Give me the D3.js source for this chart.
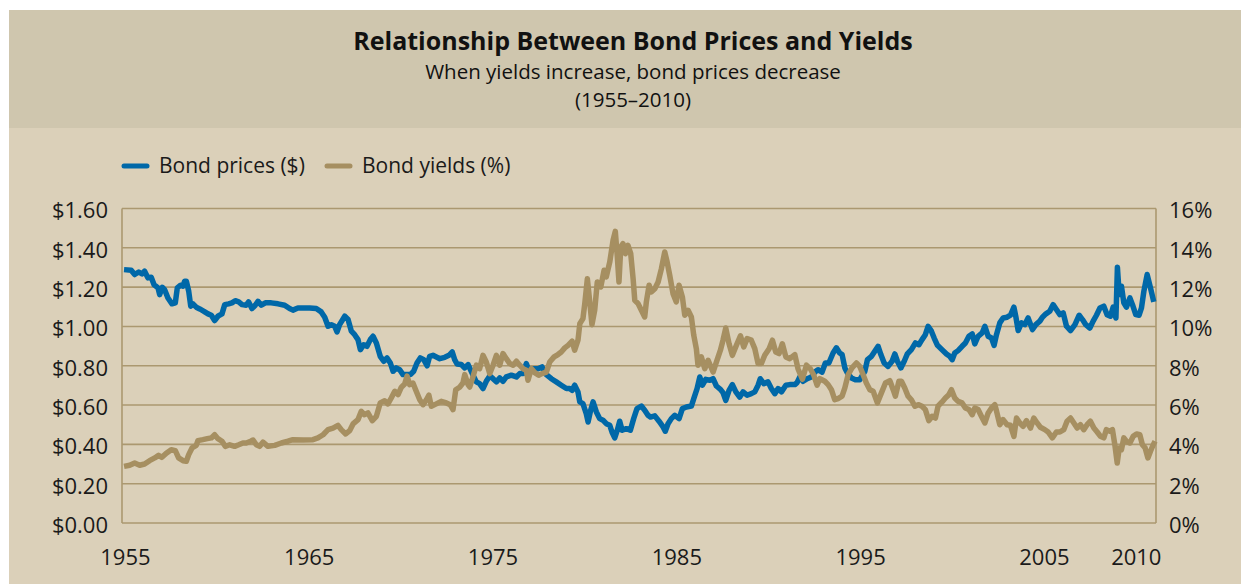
<!DOCTYPE html>
<html>
<head>
<meta charset="utf-8">
<script src="https://cdn.jsdelivr.net/npm/d3@7"></script>
<style>
  body { margin: 0; background: #fff; }
  svg { display: block; font-family: "Open Sans", sans-serif; }
</style>
</head>
<body>
<svg id="chart" width="1241" height="584"></svg>
<script>
// bond price ($), decimal years
var priceYears = [
  1954.95, 1955.34, 1955.53, 1955.75, 1955.93, 1956.07, 1956.25, 1956.43, 1956.58, 1956.80,
  1956.89, 1957.03, 1957.16, 1957.34, 1957.56, 1957.74, 1957.85, 1958.03, 1958.16, 1958.25,
  1958.34, 1958.47, 1958.58, 1958.70, 1958.88, 1959.07, 1959.30, 1959.52, 1959.70, 1959.88,
  1960.06, 1960.28, 1960.43, 1960.64, 1960.82, 1961.00, 1961.19, 1961.37, 1961.60, 1961.73,
  1961.91, 1962.09, 1962.24, 1962.42, 1962.64, 1962.96, 1963.33, 1963.69, 1963.96, 1964.14,
  1964.41, 1965.05, 1965.41, 1965.68, 1965.87, 1966.05, 1966.23, 1966.41, 1966.54, 1966.68,
  1966.96, 1967.14, 1967.32, 1967.50, 1967.68, 1967.81, 1967.99, 1968.17, 1968.35, 1968.50,
  1968.68, 1968.89, 1969.08, 1969.26, 1969.44, 1969.59, 1969.76, 1969.95, 1970.13, 1970.35,
  1970.53, 1970.71, 1970.89, 1971.07, 1971.26, 1971.44, 1971.58, 1971.76, 1972.13, 1972.40,
  1972.63, 1972.81, 1972.94, 1973.07, 1973.30, 1973.49, 1973.67, 1973.94, 1974.12, 1974.30,
  1974.48, 1974.66, 1974.85, 1975.03, 1975.21, 1975.39, 1975.57, 1975.75, 1976.02, 1976.30,
  1976.48, 1976.66, 1976.84, 1976.97, 1977.20, 1977.48, 1977.69, 1977.93, 1978.20, 1978.47,
  1978.74, 1979.02, 1979.20, 1979.33, 1979.47, 1979.65, 1979.75, 1979.92, 1980.10, 1980.20,
  1980.34, 1980.47, 1980.65, 1980.83, 1981.01, 1981.19, 1981.38, 1981.50, 1981.65, 1981.79,
  1981.92, 1982.05, 1982.28, 1982.50, 1982.68, 1982.86, 1983.10, 1983.28, 1983.46, 1983.59,
  1983.83, 1984.06, 1984.28, 1984.40, 1984.55, 1984.73, 1984.92, 1985.15, 1985.33, 1985.55,
  1985.82, 1985.95, 1986.13, 1986.28, 1986.42, 1986.60, 1986.82, 1987.00, 1987.18, 1987.40,
  1987.54, 1987.69, 1987.87, 1988.05, 1988.24, 1988.45, 1988.63, 1988.85, 1989.08, 1989.27,
  1989.45, 1989.57, 1989.76, 1989.99, 1990.17, 1990.36, 1990.54, 1990.72, 1990.96, 1991.17,
  1991.45, 1991.57, 1991.72, 1991.90, 1992.12, 1992.35, 1992.54, 1992.71, 1992.93, 1993.11,
  1993.30, 1993.53, 1993.71, 1993.89, 1994.02, 1994.17, 1994.31, 1994.53, 1994.74, 1994.98,
  1995.26, 1995.40, 1995.62, 1995.80, 1995.98, 1996.13, 1996.31, 1996.52, 1996.74, 1996.89,
  1997.03, 1997.22, 1997.40, 1997.57, 1997.79, 1998.01, 1998.20, 1998.37, 1998.55, 1998.70,
  1998.88, 1999.03, 1999.21, 1999.46, 1999.70, 1999.88, 2000.01, 2000.15, 2000.33, 2000.55,
  2000.73, 2000.92, 2001.10, 2001.24, 2001.42, 2001.64, 2001.79, 2001.97, 2002.15, 2002.29,
  2002.42, 2002.60, 2002.78, 2003.00, 2003.18, 2003.37, 2003.47, 2003.60, 2003.78, 2003.96,
  2004.14, 2004.38, 2004.56, 2004.78, 2004.92, 2005.11, 2005.32, 2005.50, 2005.68, 2005.87,
  2006.05, 2006.23, 2006.45, 2006.69, 2006.92, 2007.10, 2007.28, 2007.50, 2007.68, 2007.86,
  2008.05, 2008.26, 2008.44, 2008.62, 2008.77, 2008.92, 2009.00, 2009.10, 2009.22, 2009.35,
  2009.49, 2009.68, 2009.82, 2010.00, 2010.18, 2010.31, 2010.44, 2010.62, 2010.80, 2010.98
]
var priceValues = [
  1.289, 1.286, 1.264, 1.277, 1.267, 1.281, 1.247, 1.250, 1.213, 1.196,
  1.162, 1.199, 1.187, 1.145, 1.115, 1.120, 1.196, 1.210, 1.205, 1.230,
  1.230, 1.179, 1.103, 1.115, 1.098, 1.089, 1.077, 1.064, 1.057, 1.030,
  1.052, 1.064, 1.111, 1.115, 1.120, 1.131, 1.125, 1.111, 1.108, 1.125,
  1.091, 1.108, 1.128, 1.108, 1.120, 1.120, 1.115, 1.108, 1.091, 1.083,
  1.094, 1.094, 1.091, 1.074, 1.047, 1.001, 1.009, 1.001, 0.972, 1.009,
  1.052, 1.035, 0.976, 0.958, 0.933, 0.882, 0.907, 0.899, 0.933, 0.950,
  0.916, 0.848, 0.823, 0.840, 0.814, 0.772, 0.789, 0.780, 0.755, 0.755,
  0.755, 0.772, 0.814, 0.840, 0.831, 0.800, 0.848, 0.853, 0.836, 0.843,
  0.853, 0.870, 0.831, 0.809, 0.806, 0.789, 0.806, 0.752, 0.718, 0.709,
  0.684, 0.721, 0.748, 0.734, 0.718, 0.738, 0.721, 0.743, 0.752, 0.743,
  0.760, 0.760, 0.811, 0.777, 0.785, 0.785, 0.794, 0.755, 0.734, 0.718,
  0.701, 0.684, 0.684, 0.675, 0.701, 0.667, 0.616, 0.607, 0.556, 0.514,
  0.574, 0.616, 0.565, 0.531, 0.523, 0.505, 0.497, 0.463, 0.433, 0.472,
  0.518, 0.472, 0.480, 0.472, 0.531, 0.582, 0.595, 0.574, 0.548, 0.539,
  0.545, 0.518, 0.489, 0.467, 0.505, 0.531, 0.548, 0.531, 0.582, 0.590,
  0.595, 0.633, 0.684, 0.743, 0.701, 0.731, 0.726, 0.734, 0.697, 0.680,
  0.663, 0.624, 0.675, 0.704, 0.667, 0.641, 0.667, 0.650, 0.658, 0.667,
  0.701, 0.734, 0.709, 0.718, 0.684, 0.658, 0.684, 0.667, 0.701, 0.704,
  0.704, 0.714, 0.743, 0.721, 0.734, 0.743, 0.768, 0.780, 0.768, 0.814,
  0.814, 0.865, 0.891, 0.865, 0.857, 0.789, 0.763, 0.738, 0.729, 0.729,
  0.772, 0.831, 0.848, 0.874, 0.899, 0.857, 0.814, 0.797, 0.823, 0.860,
  0.823, 0.789, 0.823, 0.860, 0.882, 0.916, 0.907, 0.933, 0.958, 1.001,
  0.976, 0.941, 0.904, 0.882, 0.860, 0.848, 0.831, 0.865, 0.877, 0.899,
  0.916, 0.950, 0.962, 0.911, 0.950, 0.967, 1.001, 0.950, 0.941, 0.904,
  0.958, 1.018, 1.043, 1.047, 1.057, 1.098, 1.052, 0.979, 1.018, 1.009,
  1.043, 0.984, 1.009, 1.027, 1.047, 1.064, 1.077, 1.111, 1.086, 1.060,
  1.069, 1.001, 0.979, 1.009, 1.057, 1.035, 1.009, 0.992, 1.027, 1.057,
  1.094, 1.103, 1.060, 1.052, 1.098, 1.043, 1.301, 1.162, 1.205, 1.120,
  1.098, 1.145, 1.111, 1.060, 1.057, 1.094, 1.179, 1.264, 1.196, 1.125
]

// bond yield (%)
var yieldYears = [
  1954.95, 1955.26, 1955.53, 1955.80, 1956.07, 1956.34, 1956.62, 1956.83, 1957.01, 1957.25,
  1957.52, 1957.74, 1957.92, 1958.16, 1958.34, 1958.47, 1958.65, 1958.88, 1958.97, 1959.24,
  1959.48, 1959.70, 1959.88, 1960.06, 1960.28, 1960.46, 1960.70, 1960.97, 1961.19, 1961.42,
  1961.60, 1961.84, 1961.97, 1962.15, 1962.33, 1962.51, 1962.78, 1963.15, 1963.51, 1963.87,
  1964.14, 1964.69, 1965.23, 1965.50, 1965.78, 1966.05, 1966.32, 1966.59, 1966.77, 1967.01,
  1967.23, 1967.41, 1967.68, 1967.86, 1968.04, 1968.22, 1968.46, 1968.68, 1968.89, 1969.13,
  1969.31, 1969.49, 1969.68, 1969.86, 1970.04, 1970.22, 1970.35, 1970.49, 1970.67, 1970.85,
  1971.04, 1971.22, 1971.40, 1971.54, 1971.67, 1971.94, 1972.21, 1972.49, 1972.70, 1972.85,
  1973.00, 1973.21, 1973.39, 1973.49, 1973.67, 1973.76, 1973.94, 1974.12, 1974.30, 1974.48,
  1974.66, 1974.85, 1975.03, 1975.21, 1975.39, 1975.57, 1975.75, 1975.94, 1976.12, 1976.30,
  1976.48, 1976.66, 1976.84, 1976.93, 1977.11, 1977.30, 1977.51, 1977.69, 1977.93, 1978.11,
  1978.35, 1978.56, 1978.74, 1978.93, 1979.11, 1979.33, 1979.47, 1979.65, 1979.75, 1979.92,
  1980.02, 1980.16, 1980.29, 1980.41, 1980.56, 1980.70, 1980.89, 1981.07, 1981.19, 1981.38,
  1981.56, 1981.68, 1981.79, 1981.88, 1981.98, 1982.10, 1982.23, 1982.37, 1982.52, 1982.65,
  1982.74, 1982.92, 1983.10, 1983.28, 1983.37, 1983.52, 1983.64, 1983.83, 1984.01, 1984.19,
  1984.37, 1984.50, 1984.64, 1984.82, 1985.00, 1985.15, 1985.33, 1985.46, 1985.64, 1985.82,
  1985.95, 1986.09, 1986.18, 1986.36, 1986.55, 1986.73, 1987.00, 1987.18, 1987.40, 1987.54,
  1987.69, 1987.87, 1988.05, 1988.27, 1988.49, 1988.67, 1988.85, 1989.08, 1989.27, 1989.45,
  1989.63, 1989.81, 1990.05, 1990.23, 1990.41, 1990.59, 1990.77, 1990.96, 1991.17, 1991.45,
  1991.62, 1991.86, 1992.08, 1992.29, 1992.48, 1992.66, 1992.81, 1993.08, 1993.26, 1993.44,
  1993.62, 1993.80, 1994.02, 1994.17, 1994.35, 1994.56, 1994.80, 1994.98, 1995.16, 1995.34,
  1995.53, 1995.71, 1995.94, 1996.16, 1996.38, 1996.62, 1996.80, 1996.92, 1997.11, 1997.25,
  1997.43, 1997.61, 1997.79, 1997.98, 1998.16, 1998.37, 1998.55, 1998.74, 1998.92, 1999.10,
  1999.24, 1999.46, 1999.64, 1999.83, 1999.97, 2000.15, 2000.33, 2000.55, 2000.73, 2000.92,
  2001.10, 2001.24, 2001.42, 2001.60, 2001.79, 2001.97, 2002.15, 2002.33, 2002.42, 2002.60,
  2002.78, 2003.00, 2003.18, 2003.37, 2003.51, 2003.69, 2003.87, 2004.05, 2004.27, 2004.45,
  2004.63, 2004.81, 2005.05, 2005.23, 2005.46, 2005.68, 2005.87, 2006.08, 2006.26, 2006.45,
  2006.63, 2006.81, 2006.99, 2007.17, 2007.35, 2007.53, 2007.72, 2007.90, 2008.08, 2008.26,
  2008.40, 2008.59, 2008.73, 2008.86, 2008.99, 2009.10, 2009.22, 2009.35, 2009.49, 2009.68,
  2009.86, 2010.04, 2010.22, 2010.36, 2010.51, 2010.66, 2010.80, 2010.95, 2011.05
]
var yieldValues = [
  2.88, 2.94, 3.05, 2.94, 3.00, 3.17, 3.31, 3.44, 3.34, 3.55,
  3.73, 3.68, 3.31, 3.17, 3.14, 3.48, 3.82, 3.95, 4.19, 4.24,
  4.29, 4.33, 4.49, 4.29, 4.16, 3.90, 3.98, 3.90, 3.98, 4.07,
  4.07, 4.16, 4.22, 3.98, 3.90, 4.11, 3.90, 3.95, 4.07, 4.16,
  4.24, 4.22, 4.24, 4.33, 4.49, 4.75, 4.83, 4.97, 4.75, 4.53,
  4.70, 5.04, 5.26, 5.68, 5.51, 5.60, 5.21, 5.43, 6.11, 6.22,
  6.06, 6.36, 6.70, 6.53, 6.91, 7.07, 7.47, 7.04, 7.12, 6.70,
  6.27, 6.02, 6.27, 6.50, 5.94, 6.06, 6.19, 6.11, 6.02, 5.77,
  6.78, 6.91, 7.12, 7.55, 7.04, 6.92, 7.45, 8.03, 7.85, 8.53,
  8.19, 7.60, 8.03, 8.53, 8.03, 8.62, 8.36, 8.11, 8.03, 8.23,
  8.03, 7.85, 7.77, 7.26, 7.85, 7.65, 7.52, 7.60, 7.68, 8.19,
  8.45, 8.57, 8.70, 8.91, 9.04, 9.25, 8.79, 9.30, 10.14, 10.40,
  11.16, 12.43, 11.25, 10.09, 10.82, 12.26, 12.01, 12.86, 12.52, 13.28,
  14.39, 14.84, 13.54, 12.26, 14.05, 14.21, 13.70, 14.13, 13.70, 12.43,
  11.33, 11.16, 10.82, 10.48, 11.25, 12.10, 11.76, 11.92, 12.26, 12.94,
  13.79, 13.28, 12.61, 11.67, 11.25, 12.10, 11.50, 10.57, 10.82, 10.48,
  9.55, 8.87, 8.03, 8.45, 7.85, 8.28, 7.68, 8.19, 8.79, 9.30,
  9.92, 9.12, 8.53, 9.04, 9.52, 8.96, 9.38, 9.30, 8.87, 8.11,
  8.11, 8.53, 8.87, 9.30, 8.70, 8.62, 9.12, 8.45, 8.36, 8.56,
  7.85, 7.31, 8.03, 7.85, 7.52, 7.01, 7.34, 7.21, 7.04, 6.78,
  6.27, 6.33, 6.45, 6.87, 7.55, 7.89, 8.14, 7.97, 7.55, 7.12,
  6.78, 6.70, 6.11, 6.62, 7.12, 7.24, 6.78, 6.45, 7.21, 7.21,
  6.87, 6.45, 6.27, 5.94, 6.02, 5.94, 5.77, 5.21, 5.43, 5.34,
  5.94, 6.16, 6.36, 6.53, 6.78, 6.36, 6.19, 6.11, 5.85, 5.77,
  5.51, 5.85, 5.77, 5.43, 5.09, 5.60, 5.85, 6.02, 5.71, 5.00,
  5.26, 5.00, 4.97, 4.41, 5.34, 5.09, 4.92, 5.21, 4.83, 5.34,
  5.09, 4.87, 4.75, 4.63, 4.33, 4.63, 4.63, 4.75, 5.18, 5.34,
  5.09, 4.83, 5.00, 4.75, 5.00, 5.18, 4.83, 4.63, 4.41, 4.33,
  4.75, 4.67, 4.75, 3.98, 3.05, 3.82, 3.73, 4.33, 4.16, 4.07,
  4.41, 4.53, 4.49, 3.98, 3.82, 3.31, 3.65, 3.98, 4.16
]

var priceTicks = [0, 0.2, 0.4, 0.6, 0.8, 1.0, 1.2, 1.4, 1.6]
var yieldTicks = [0, 2, 4, 6, 8, 10, 12, 14, 16]
var yearTicks = [1955, 1965, 1975, 1985, 1995, 2005, 2010]

var titleText = "Relationship Between Bond Prices and Yields"
var subtitleText = "When yields increase, bond prices decrease"
var periodText = "(1955\u20132010)"
var legendLabels = ["Bond prices ($)", "Bond yields (%)"]

var blue = "#0068a8"
var tan = "#a68f61"
var gridColour = "#ab9870"

var svg = d3.select("#chart")

// backgrounds
svg.append("rect")
  .attr("x", 9).attr("y", 10).attr("width", 1232).attr("height", 118)
  .attr("fill", "#cfc6ae")
svg.append("rect")
  .attr("x", 9).attr("y", 128).attr("width", 1232).attr("height", 456)
  .attr("fill", "#dbd0b9")

// titles
var cx = 633
svg.append("text")
  .attr("x", cx).attr("y", 50)
  .attr("text-anchor", "middle")
  .attr("font-size", 25).attr("font-weight", 700)
  .attr("fill", "#111")
  .text(titleText)
svg.append("text")
  .attr("x", cx).attr("y", 79)
  .attr("text-anchor", "middle")
  .attr("font-size", 20.5)
  .attr("fill", "#111")
  .text(subtitleText)
svg.append("text")
  .attr("x", cx).attr("y", 107)
  .attr("text-anchor", "middle")
  .attr("font-size", 20.5)
  .attr("fill", "#111")
  .text(periodText)

// scales
var x = d3.scaleLinear()
  .domain([1954.84, 2011.1])
  .range([122, 1156])
var yPrice = d3.scaleLinear()
  .domain([0, 1.6])
  .range([523, 208.5])
var yYield = d3.scaleLinear()
  .domain([0, 16])
  .range([523, 208.5])

// grid lines
svg.append("g")
  .selectAll("line")
  .data(priceTicks)
  .join("line")
    .attr("x1", x.range()[0]).attr("x2", x.range()[1])
    .attr("y1", d => yPrice(d)).attr("y2", d => yPrice(d))
    .attr("stroke", gridColour)
    .attr("stroke-width", 1.6)

svg.append("g")
  .selectAll("line")
  .data(x.range())
  .join("line")
    .attr("x1", d => d).attr("x2", d => d)
    .attr("y1", yPrice(0)).attr("y2", yPrice(1.6))
    .attr("stroke", gridColour)
    .attr("stroke-width", 1.6)

// axes
function styleAxis(g) {
  g.select(".domain").remove()
  g.selectAll("text")
    .attr("font-family", "Open Sans, sans-serif")
    .attr("font-size", 22)
    .attr("fill", "#1a1a1a")
}

svg.append("g")
  .attr("transform", "translate(" + x.range()[0] + ",0)")
  .call(d3.axisLeft(yPrice).tickValues(priceTicks)
    .tickFormat(d => "$" + d3.format(".2f")(d))
    .tickSize(0).tickPadding(14))
  .call(styleAxis)
  .selectAll("text").attr("dy", "0.43em")

svg.append("g")
  .attr("transform", "translate(" + x.range()[1] + ",0)")
  .call(d3.axisRight(yYield).tickValues(yieldTicks)
    .tickFormat(d => d + "%")
    .tickSize(0).tickPadding(13))
  .call(styleAxis)
  .selectAll("text").attr("dy", "0.43em")

svg.append("g")
  .attr("transform", "translate(0," + yPrice(0) + ")")
  .call(d3.axisBottom(x).tickValues(yearTicks)
    .tickFormat(d3.format("d"))
    .tickSize(0).tickPadding(26))
  .call(styleAxis)

// lines
var priceData = d3.zip(priceYears, priceValues)
var yieldData = d3.zip(yieldYears, yieldValues)

var priceLine = d3.line()
  .x(d => x(d[0]))
  .y(d => yPrice(d[1]))
var yieldLine = d3.line()
  .x(d => x(d[0]))
  .y(d => yYield(d[1]))

svg.append("path")
  .datum(priceData)
  .attr("d", priceLine)
  .attr("fill", "none")
  .attr("stroke", blue)
  .attr("stroke-width", 5.5)
  .attr("stroke-linejoin", "round")

svg.append("path")
  .datum(yieldData)
  .attr("d", yieldLine)
  .attr("fill", "none")
  .attr("stroke", tan)
  .attr("stroke-width", 5.5)
  .attr("stroke-linejoin", "round")

// legend
var legend = svg.append("g")
var legendX = [124, 327]
var legendColours = [blue, tan]
legendLabels.forEach((label, i) => {
  legend.append("line")
    .attr("x1", legendX[i]).attr("x2", legendX[i] + 23)
    .attr("y1", 166).attr("y2", 166)
    .attr("stroke", legendColours[i])
    .attr("stroke-width", 5)
    .attr("stroke-linecap", "round")
  legend.append("text")
    .attr("x", legendX[i] + 35).attr("y", 173)
    .attr("font-size", 21)
    .attr("fill", "#1a1a1a")
    .text(label)
})
</script>
</body>
</html>
